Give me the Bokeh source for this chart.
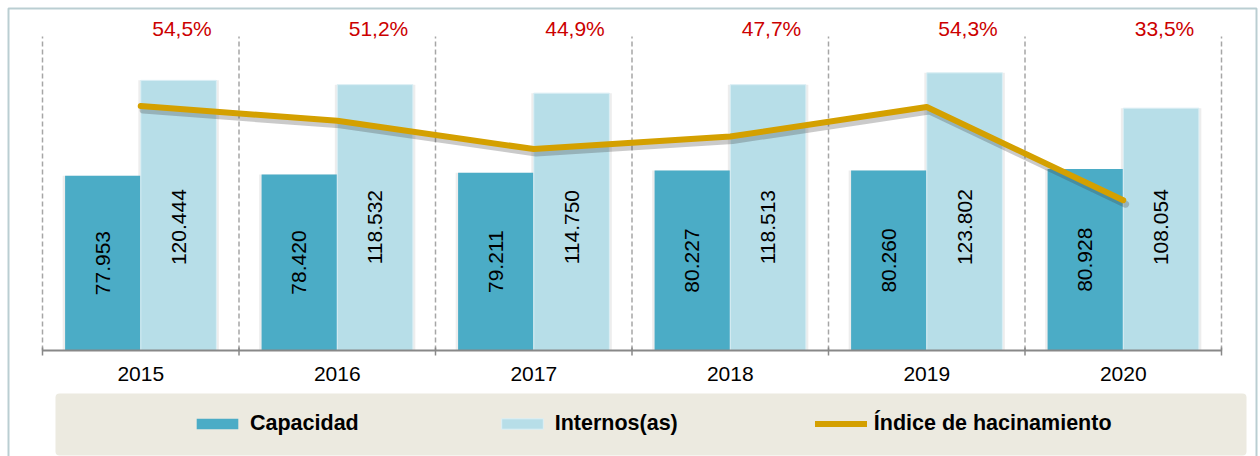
import math
from bokeh.plotting import figure
from bokeh.models import (ColumnDataSource, FactorRange, Range1d, Legend, LegendItem,
                          BoxAnnotation)
from bokeh.transform import dodge
from bokeh.core.properties import value
from bokeh.embed import file_html
from bokeh.resources import INLINE

# ---------------- data ----------------
years = ["2015", "2016", "2017", "2018", "2019", "2020"]
capacidad = [77953, 78420, 79211, 80227, 80260, 80928]
internos = [120444, 118532, 114750, 118513, 123802, 108054]
indice = [54.5, 51.2, 44.9, 47.7, 54.3, 33.5]
series_names = ["Capacidad", "Internos(as)", "Índice de hacinamiento"]

def fmt_int(v):
    return f"{v:,}".replace(",", ".")

def fmt_pct(v):
    return f"{v:.1f}%".replace(".", ",")

# ---------------- style / layout ----------------
FONT = "Liberation Sans"
C_CAP = "#4BACC6"
C_INT = "#B7DEE8"
C_LINE = "#D4A000"
C_RED = "#CC0000"
C_FRAME = "#1B5E6B"
FS = "21px"

W, H = 1260, 456
FRAME_X0 = 3                 # frame starts here, spans to the right edge
CAT_PX = 196.5               # width of one category
AXIS_LEFT = 42               # x of first category boundary
BASE_Y = 350                 # y of value 0
TOP_Y = 36                   # y of PRIMARY_MAX
PRIMARY_MAX, SECOND_MAX = 140000, 70
upp = PRIMARY_MAX / (BASE_Y - TOP_Y)
upp2 = SECOND_MAX / (BASE_Y - TOP_Y)

def px_to_y(py):
    return (BASE_Y - py) * upp

pad_px = AXIS_LEFT - FRAME_X0
range_pad = 2 * pad_px / CAT_PX / len(years)

src = ColumnDataSource(dict(
    year=years,
    cap=capacidad,
    inte=internos,
    idx=indice,
    cap_mid=[v / 2 for v in capacidad],
    cap_lbl=[fmt_int(v) for v in capacidad],
    int_lbl=[fmt_int(v) for v in internos],
    pct_lbl=[fmt_pct(v) for v in indice],
))

p = figure(width=W, height=H,
           x_range=FactorRange(*years, range_padding=range_pad, range_padding_units="percent"),
           y_range=Range1d(px_to_y(H), px_to_y(0)), output_backend="svg",
           toolbar_location=None, y_axis_location=None, x_axis_location=None,
           min_border_left=FRAME_X0, min_border_right=0,
           min_border_top=0, min_border_bottom=0)
p.extra_y_ranges = {
    "pct": Range1d((BASE_Y - H) * upp2, BASE_Y * upp2),
    "shadow": Range1d((BASE_Y - H + 4) * upp2, (BASE_Y + 4) * upp2),
}
p.outline_line_color = None
p.grid.visible = False
p.background_fill_color = "white"
p.border_fill_color = "white"

# legend background and outer frame
p.add_layout(BoxAnnotation(left=55, right=1246, top=393, bottom=455,
                           left_units="canvas", right_units="canvas",
                           top_units="canvas", bottom_units="canvas",
                           fill_color="#ECEAE0", fill_alpha=1, line_color=None,
                           border_radius=4, level="underlay"))
p.add_layout(BoxAnnotation(left=8, right=1256, top=8, bottom=480,
                           left_units="canvas", right_units="canvas",
                           top_units="canvas", bottom_units="canvas",
                           fill_alpha=0, line_color=C_FRAME, line_width=2))

# separators (dashed) and boundary ticks
sep_kw = dict(line_color="#A6A6A6", line_width=1.5, line_dash="5 3")
last = ColumnDataSource(dict(year=[years[-1]]))
for s, off in ((src, -0.5), (last, 0.5)):
    xx = dodge("year", off, range=p.x_range)
    p.segment(x0=xx, x1=xx, y0=0, y1=PRIMARY_MAX, source=s, **sep_kw)
    p.segment(x0=xx, x1=xx, y0=3 * upp, y1=-5 * upp, source=s,
              line_color="#888888", line_width=1.5)

BW = 0.385
OFF = 0.1925
# soft bar shadows
p.vbar(x=dodge("year", -OFF, range=p.x_range), top="cap", width=BW + 0.025, source=src,
       fill_color="black", fill_alpha=0.07, line_color=None)
p.vbar(x=dodge("year", OFF, range=p.x_range), top="inte", width=BW + 0.025, source=src,
       fill_color="black", fill_alpha=0.07, line_color=None)
r_cap = p.vbar(x=dodge("year", -OFF, range=p.x_range), top="cap", width=BW, source=src,
               fill_color=C_CAP, line_color=None)
r_int = p.vbar(x=dodge("year", OFF, range=p.x_range), top="inte", width=BW, source=src,
               fill_color=C_INT, line_color="#DCEFF5", line_width=1)

# baseline (x axis line)
p.segment(x0=dodge("year", -0.5, range=p.x_range), x1=dodge("year", 0.5, range=p.x_range),
          y0=0, y1=0, source=src, line_color="#888888", line_width=2)

# bar labels
txt = dict(text_font=value(FONT), text_font_size=FS)
p.text(x=dodge("year", -OFF, range=p.x_range), y="cap_mid", text="cap_lbl", source=src,
       angle=math.pi / 2, text_align="center", text_baseline="middle",
       text_color="black", **txt)
p.text(x=dodge("year", OFF, range=p.x_range), y=55000, text="int_lbl", source=src,
       angle=math.pi / 2, text_align="center", text_baseline="middle",
       text_color="black", **txt)

# line with shadow
p.line(x=dodge("year", 0.012, range=p.x_range), y="idx", source=src, y_range_name="shadow",
       line_color="#404040", line_alpha=0.28, line_width=7, line_join="round", line_cap="round")
r_line = p.line(x="year", y="idx", source=src, y_range_name="pct", line_color=C_LINE,
                line_width=6, line_join="round", line_cap="round")

# percent labels on top
p.text(x=dodge("year", 0.21, range=p.x_range), y=px_to_y(28), text="pct_lbl", source=src,
       text_align="center", text_baseline="middle", text_color=C_RED, **txt)

# category labels (x axis)
p.text(x="year", y=px_to_y(373.5), text="year", source=src,
       text_align="center", text_baseline="middle", text_color="black", **txt)

legend = Legend(items=[LegendItem(label=series_names[0], renderers=[r_cap]),
                       LegendItem(label=series_names[1], renderers=[r_int]),
                       LegendItem(label=series_names[2], renderers=[r_line])],
                location=(188, 20), orientation="horizontal", spacing=137, padding=0,
                margin=0, glyph_width=52, glyph_height=13, label_standoff=7,
                label_text_font=FONT, label_text_font_size="21.5px",
                label_text_font_style="bold", label_text_color="black",
                background_fill_alpha=0, border_line_color=None)
p.add_layout(legend)

open("out.html", "w").write(file_html(p, INLINE))
